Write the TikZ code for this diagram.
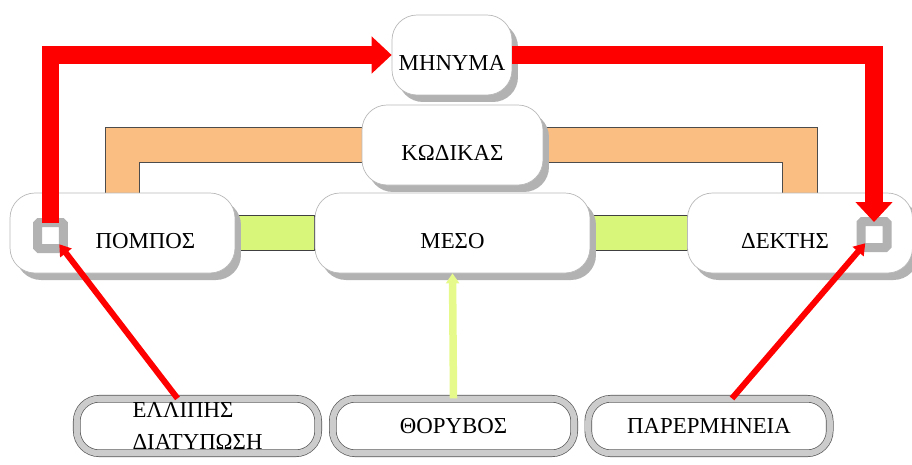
\documentclass[tikz,border=0pt]{standalone}
\usepackage{fontspec}
\setmainfont{Liberation Serif}
\usetikzlibrary{arrows.meta,positioning,shadows,backgrounds,calc}
\definecolor{linkgreen}{RGB}{216,246,122}
\definecolor{hissgreen}{RGB}{230,250,140}
\definecolor{codeorange}{RGB}{250,190,130}

\begin{document}
\begin{tikzpicture}[x=0.02cm,y=-0.02cm,>=Triangle,
  font=\fontsize{13}{18}\selectfont,
  box/.style={draw=gray!55,fill=white,rounded corners=0.5cm,minimum height=1.6cm,
    drop shadow={shadow xshift=0.12cm,shadow yshift=-0.14cm,fill=gray!60,opacity=1}},
  txt/.style={yshift=-0.16cm},
  cause/.style={draw=gray!70!black,line width=0.4pt,double=gray!40,double distance=3.5pt,
    fill=white,rounded corners=0.45cm,minimum width=4.83cm,minimum height=1.09cm,
    inner ysep=1pt,align=left},
  port/.style={draw=gray!60,line width=0.18cm,fill=white,rounded corners=1pt,
    minimum width=0.52cm,minimum height=0.52cm,inner sep=0pt},
  link/.style={draw=black!75,fill=linkgreen,line width=0.5pt},
  bracket/.style={draw=black!70,line width=0.5pt,double=codeorange,double distance=0.68cm,line join=miter},
  flow/.style={red,line width=0.36cm,line join=miter,-{Triangle[length=0.4cm,width=0.72cm]}},
  fault/.style={red,line width=0.12cm,-{Triangle[length=0.22cm,width=0.28cm]}},
  hiss/.style={hissgreen,line width=0.15cm,-{Triangle[length=0.2cm,width=0.26cm]}}]
\useasboundingbox (0,0) rectangle (912,464);
% top row of the model
\node[box,minimum width=2.4cm,label={[txt]center:ΜΗΝΥΜΑ}] (msg) at (452,55) {};
\node[box,minimum width=3.62cm,label={[txt]center:ΚΩΔΙΚΑΣ}] (code) at (452.5,145) {};
\node[box,minimum width=4.5cm,label={[txt,xshift=0.46cm]center:ΠΟΜΠΟΣ}] (src) at (122.5,233) {};
\node[box,minimum width=5.5cm,label={[txt]center:ΜΕΣΟ}] (med) at (452.5,233) {};
\node[box,minimum width=4.5cm,label={[txt,xshift=-0.3cm]center:ΔΕΚΤΗΣ}] (dst) at (800,233) {};
\node[port] (srcport) at (50.5,235.5) {};
\node[port] (dstport) at (874,234.5) {};
% sources of trouble
\node[cause] (err) at (197.5,426) {ΕΛΛΙΠΗΣ\\ΔΙΑΤΥΠΩΣΗ};
\node[cause] (noise) at (453.5,426) {ΘΟΡΥΒΟΣ};
\node[cause] (misread) at (709,426) {ΠΑΡΕΡΜΗΝΕΙΑ};
\begin{scope}[on background layer]
\draw[bracket] (src.north) |- (code.west);
\draw[bracket] (dst.north) |- (code.east);
\draw[link] ([yshift=0.35cm]src.east) rectangle ([yshift=-0.35cm]med.west);
\draw[link] ([yshift=0.35cm]med.east) rectangle ([yshift=-0.35cm]dst.west);
\end{scope}
\draw[flow] ([yshift=-0.1cm]srcport.north) |- (msg.west);
\draw[flow] (msg.east) -| ([yshift=-0.1cm]dstport.north);
\draw[fault] ([xshift=-0.4cm]err.north) -- ($(srcport.center)!0.5!(srcport.south east)$);
\draw[fault] ([xshift=0.46cm]misread.north) -- ($(dstport.center)!0.5!(dstport.south west)$);
\draw[hiss] (noise.north) -- (med.south);
\end{tikzpicture}
\end{document}
